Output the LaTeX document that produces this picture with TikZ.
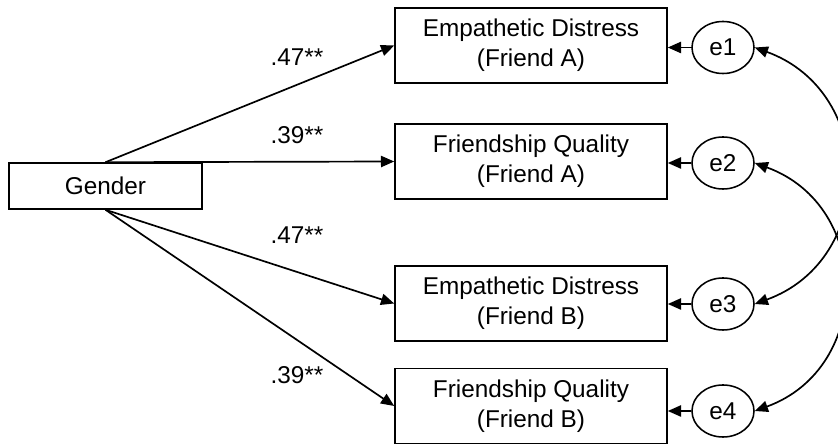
\documentclass[tikz,border=0pt]{standalone}
\usepackage{fontspec}
\setmainfont{Liberation Sans}
\usetikzlibrary{positioning,shapes.geometric,arrows.meta}

\tikzset{
  var/.style={draw,line width=1.1pt,rectangle,minimum width=6.8cm,minimum height=1.875cm,align=center,inner sep=0pt},
  err/.style={draw,line width=1.1pt,ellipse,minimum width=1.55cm,minimum height=1.3cm,inner sep=0pt},
  effect/.style={line width=1.2pt,-{Triangle[length=0.33cm,width=0.28cm]}},
  corr/.style={line width=1.2pt,{Triangle[length=0.33cm,width=0.28cm]}-{Triangle[length=0.33cm,width=0.28cm]}},
  coef/.style={inner sep=0pt},
}

\begin{document}
\begin{tikzpicture}[x=0.025cm,y=-0.025cm,font=\fontsize{17.3}{21.3}\selectfont]
\clip (0,0) rectangle (838,444);
% observed variables
\node[var,minimum width=4.825cm,minimum height=1.15cm] (gender) at (105.5,186) {Gender};
\node[var] (ed-a) at (531,45.5) {Empathetic Distress\\(Friend A)};
\node[var] (fq-a) at (531,161.5) {Friendship Quality\\(Friend A)};
\node[var] (ed-b) at (531,303.5) {Empathetic Distress\\(Friend B)};
\node[var] (fq-b) at (531,406) {Friendship Quality\\(Friend B)};
% residuals
\node[err] (e1) at (723,47.5) {e1};
\node[err] (e2) at (723,163) {e2};
\node[err] (e3) at (723,304) {e3};
\node[err] (e4) at (723,411) {e4};
% paths from gender
\draw[effect] (gender.north) -- (ed-a.west);
\draw[effect] (gender.north) -- (fq-a.west);
\draw[effect] (gender.south) -- (ed-b.west);
\draw[effect] (gender.south) -- (fq-b.west);
\node[coef] (c1) at (297,57) {.47**};
\node[coef] (c2) at (297,135) {.39**};
\node[coef] (c3) at (297,235) {.47**};
\node[coef] (c4) at (297,375) {.39**};
% residual paths
\draw[effect] (e1.west) -- (e1.west -| ed-a.east);
\draw[effect] (e2.west) -- (e2.west -| fq-a.east);
\draw[effect] (e3.west) -- (e3.west -| ed-b.east);
\draw[effect] (e4.west) -- (e4.west -| fq-b.east);
% covariances
\draw[corr] (e1.east) to[out=-20,in=20,looseness=1.3] (e3.east);
\draw[corr] (e2.east) to[out=-20,in=20,looseness=1.3] (e4.east);
\end{tikzpicture}
\end{document}
